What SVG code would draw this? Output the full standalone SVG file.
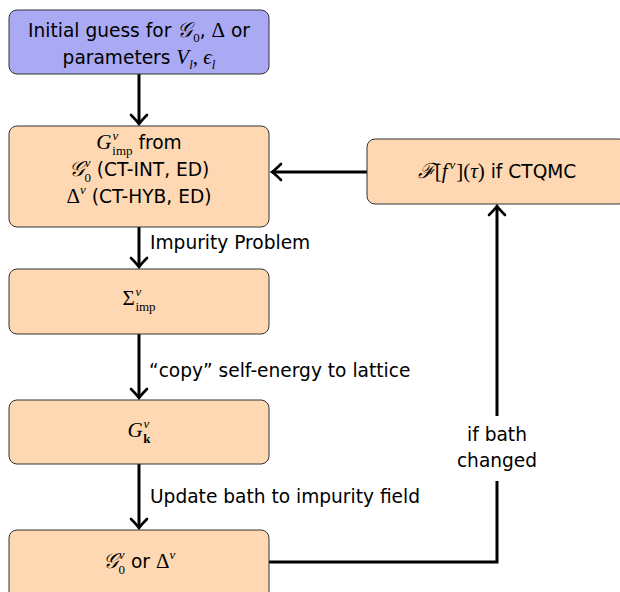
<svg xmlns="http://www.w3.org/2000/svg" width="620" height="592" viewBox="0 0 620 592">
  <style>
    .box { stroke: #333; stroke-width: 1; }
    .start { fill: #aaaaf4; }
    .step { fill: #fdd8b2; }
    .t { font-family: "DejaVu Sans", "Liberation Sans", sans-serif; font-size: 18.6px; fill: #000; }
    .m { font-family: "Liberation Serif", "DejaVu Serif", serif; font-size: 21px; }
    .mi { font-family: "Liberation Serif", "DejaVu Serif", serif; font-style: italic; font-size: 21px; }
    .s { font-size: 13px; }
    .edge { fill: none; stroke: #000; stroke-width: 3; }
  </style>
  <defs>
    <marker id="arr" markerUnits="userSpaceOnUse" markerWidth="20" markerHeight="20" viewBox="-12 -10 14 20" refX="0" refY="0" orient="auto">
      <path d="M-9,-8 Q-3,-2 0,0 Q-3,2 -9,8" fill="none" stroke="#000" stroke-width="2.6" stroke-linecap="round"/>
    </marker>
  </defs>

  <g id="connectors">
    <path class="edge" d="M139,74 V124" marker-end="url(#arr)"/>
    <path class="edge" d="M139,227 V267" marker-end="url(#arr)"/>
    <path class="edge" d="M139,334 V398" marker-end="url(#arr)"/>
    <path class="edge" d="M139,464 V528" marker-end="url(#arr)"/>
    <path class="edge" d="M367,172 H272" marker-end="url(#arr)"/>
    <path class="edge" d="M269,562 H497 V481 M497,416 V206" marker-end="url(#arr)"/>
    <text class="t" x="150" y="249">Impurity Problem</text>
    <text class="t" x="149" y="377">“copy” self-energy to lattice</text>
    <text class="t" x="150" y="503">Update bath to impurity field</text>
    <text class="t" x="497" y="441" text-anchor="middle">if bath</text>
    <text class="t" x="497" y="467" text-anchor="middle">changed</text>
  </g>

  <g id="initial">
    <rect class="box start" x="9" y="10" width="260" height="64" rx="8"/>
    <text class="t" x="139" y="37" text-anchor="middle">Initial guess for <tspan class="mi">𝒢</tspan><tspan class="m s" dx="1" dy="5">0</tspan><tspan dy="-5">, </tspan><tspan class="m">Δ</tspan> or</text>
    <text class="t" x="139" y="64" text-anchor="middle">parameters <tspan class="mi">V</tspan><tspan class="mi s" dy="5">l</tspan><tspan class="m" dy="-5">, </tspan><tspan class="mi">ϵ</tspan><tspan class="mi s" dy="5">l</tspan></text>
  </g>

  <g id="impurity">
    <rect class="box step" x="9" y="126" width="260" height="101" rx="8"/>
    <text class="t" x="139" y="149" text-anchor="middle"><tspan class="mi">G</tspan><tspan class="mi s" dx="1" dy="-9">ν</tspan><tspan class="m s" dx="-6" dy="15">imp</tspan><tspan dy="-6"> from</tspan></text>
    <text class="t" x="139" y="176" text-anchor="middle"><tspan class="mi">𝒢</tspan><tspan class="mi s" dx="1" dy="-9">ν</tspan><tspan class="m s" dx="-6" dy="15">0</tspan><tspan dy="-6"> (CT-INT, ED)</tspan></text>
    <text class="t" x="139" y="203" text-anchor="middle"><tspan class="m">Δ</tspan><tspan class="mi s" dy="-9">ν</tspan><tspan dy="9"> (CT-HYB, ED)</tspan></text>
  </g>

  <g id="transform">
    <rect class="box step" x="367" y="139" width="260" height="65" rx="8"/>
    <text class="t" x="497" y="178" text-anchor="middle"><tspan class="mi">ℱ</tspan><tspan class="m">[</tspan><tspan class="mi">f</tspan><tspan class="mi s" dx="2" dy="-9">ν</tspan><tspan class="m" dx="1" dy="9">](</tspan><tspan class="mi">τ</tspan><tspan class="m">)</tspan> if CTQMC</text>
  </g>

  <g id="selfenergy">
    <rect class="box step" x="9" y="269" width="260" height="65" rx="8"/>
    <text class="t" x="139" y="305" text-anchor="middle"><tspan class="m">Σ</tspan><tspan class="mi s" dx="1" dy="-9">ν</tspan><tspan class="m s" dx="-6" dy="15">imp</tspan></text>
  </g>

  <g id="lattice">
    <rect class="box step" x="9" y="400" width="260" height="64" rx="8"/>
    <text class="t" x="139" y="437" text-anchor="middle"><tspan class="mi">G</tspan><tspan class="mi s" dx="1" dy="-9">ν</tspan><tspan class="m s" dx="-6" dy="15" font-weight="bold">k</tspan></text>
  </g>

  <g id="bath">
    <rect class="box step" x="9" y="530" width="260" height="70" rx="8"/>
    <text class="t" x="139" y="568" text-anchor="middle"><tspan class="mi">𝒢</tspan><tspan class="mi s" dx="1" dy="-9">ν</tspan><tspan class="m s" dx="-6" dy="15">0</tspan><tspan dy="-6"> or </tspan><tspan class="m">Δ</tspan><tspan class="mi s" dy="-9">ν</tspan></text>
  </g>
</svg>
